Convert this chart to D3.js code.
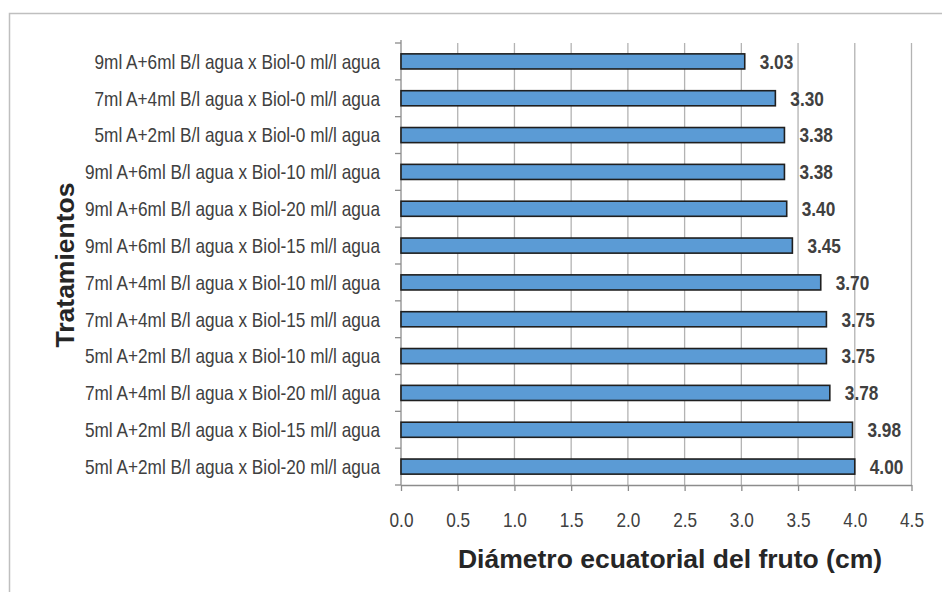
<!DOCTYPE html>
<html>
<head>
<meta charset="utf-8">
<script src="https://cdn.jsdelivr.net/npm/d3@7"></script>
<style>
  body { margin: 0; background: #fff; }
  svg { display: block; }
  .cat { font-family: "Liberation Sans", Arial, sans-serif; font-size: 21px; fill: #404040; }
  .val { font-family: "Liberation Sans", Arial, sans-serif; font-size: 21px; font-weight: bold; fill: #404040; }
  .tick text { font-family: "Liberation Sans", Arial, sans-serif; font-size: 21px; fill: #404040; }
  .title { font-family: "Liberation Sans", Arial, sans-serif; font-size: 26.5px; font-weight: bold; fill: #262626; }
</style>
</head>
<body>
<script>
"use strict";

// treatments, top to bottom as in the chart
var tratamientos = [
  "9ml A+6ml B/l agua x Biol-0 ml/l agua",
  "7ml A+4ml B/l agua x Biol-0 ml/l agua",
  "5ml A+2ml B/l agua x Biol-0 ml/l agua",
  "9ml A+6ml B/l agua x Biol-10 ml/l agua",
  "9ml A+6ml B/l agua x Biol-20 ml/l agua",
  "9ml A+6ml B/l agua x Biol-15 ml/l agua",
  "7ml A+4ml B/l agua x Biol-10 ml/l agua",
  "7ml A+4ml B/l agua x Biol-15 ml/l agua",
  "5ml A+2ml B/l agua x Biol-10 ml/l agua",
  "7ml A+4ml B/l agua x Biol-20 ml/l agua",
  "5ml A+2ml B/l agua x Biol-15 ml/l agua",
  "5ml A+2ml B/l agua x Biol-20 ml/l agua"
];
var diametro = [3.03, 3.30, 3.38, 3.38, 3.40, 3.45, 3.70, 3.75, 3.75, 3.78, 3.98, 4.00];
var x_ticks = [0, 0.5, 1, 1.5, 2, 2.5, 3, 3.5, 4, 4.5];

var width = 942, height = 592,
  plot = {left: 401, right: 911.5, top: 43, bottom: 485},
  narrow = 0.82; // horizontal squeeze to mimic Arial Narrow

var data = tratamientos.map((t, i) => ({t: t, v: diametro[i]}));

var svg = d3.select('body').append('svg')
  .attr('width', width)
  .attr('height', height);

// outer frame (top and left edges visible)
svg.append('rect')
  .attr('x', 9.5).attr('y', 13.5)
  .attr('width', 960).attr('height', 620)
  .attr('fill', 'none')
  .attr('stroke', '#bfbfbf')
  .attr('stroke-width', 1.5);

var x = d3.scaleLinear()
  .domain([0, 4.5])
  .range([plot.left, plot.right]);

var y = d3.scaleBand()
  .domain(tratamientos)
  .range([plot.top, plot.bottom])
  .paddingInner(0.59)
  .paddingOuter(0.295);

var y_outer = d3.scaleBand()
  .domain(tratamientos)
  .range([plot.top, plot.bottom]);

// gridlines
svg.append('g')
  .selectAll('line')
  .data(x_ticks.slice(1))
  .join('line')
    .attr('x1', d => x(d)).attr('x2', d => x(d))
    .attr('y1', plot.top).attr('y2', plot.bottom)
    .attr('stroke', '#b3b3b3')
    .attr('stroke-width', 1.3);

// x axis
var axis_x = svg.append('g')
  .attr('transform', `translate(0, ${plot.bottom})`)
  .call(d3.axisBottom(x)
    .tickValues(x_ticks)
    .tickFormat(d3.format('.1f'))
    .tickSize(6)
    .tickSizeOuter(0)
    .tickPadding(21));

axis_x.select('.domain').attr('stroke', '#8c8c8c').attr('stroke-width', 1.3);
axis_x.selectAll('.tick line').attr('stroke', '#8c8c8c').attr('stroke-width', 1.3);
axis_x.selectAll('.tick text').attr('transform', `scale(${narrow}, 1)`);

// y axis with ticks between categories
var y_ticks = d3.range(tratamientos.length + 1)
  .map(i => plot.top + i * y_outer.step());

var axis_y = svg.append('g');
axis_y.append('line')
  .attr('x1', plot.left).attr('x2', plot.left)
  .attr('y1', plot.top - 3).attr('y2', plot.bottom)
  .attr('stroke', '#8c8c8c')
  .attr('stroke-width', 1.3);
axis_y.selectAll('.yt')
  .data(y_ticks)
  .join('line')
    .attr('class', 'yt')
    .attr('x1', plot.left - 6).attr('x2', plot.left)
    .attr('y1', d => d).attr('y2', d => d)
    .attr('stroke', '#8c8c8c')
    .attr('stroke-width', 1.3);

// category labels
svg.append('g')
  .selectAll('text')
  .data(data)
  .join('text')
    .attr('class', 'cat')
    .attr('transform', d =>
      `translate(${plot.left - 21}, ${y_outer(d.t) + y_outer.bandwidth() / 2}) scale(${narrow}, 1)`)
    .attr('dy', '0.35em')
    .attr('text-anchor', 'end')
    .text(d => d.t);

// bars
svg.append('g')
  .selectAll('rect')
  .data(data)
  .join('rect')
    .attr('x', x(0))
    .attr('y', d => y(d.t))
    .attr('width', d => x(d.v) - x(0))
    .attr('height', y.bandwidth())
    .attr('fill', '#5b9bd5')
    .attr('stroke', '#1f1f1f')
    .attr('stroke-width', 1.6);

// value labels
svg.append('g')
  .selectAll('text')
  .data(data)
  .join('text')
    .attr('class', 'val')
    .attr('transform', d =>
      `translate(${x(d.v) + 15}, ${y_outer(d.t) + y_outer.bandwidth() / 2}) scale(${narrow}, 1)`)
    .attr('dy', '0.35em')
    .text(d => d3.format('.2f')(d.v));

// axis titles
svg.append('text')
  .attr('class', 'title')
  .attr('x', 670)
  .attr('y', 568)
  .attr('text-anchor', 'middle')
  .text('Diámetro ecuatorial del fruto (cm)');

svg.append('text')
  .attr('class', 'title')
  .attr('transform', 'translate(74, 265) rotate(-90)')
  .attr('text-anchor', 'middle')
  .text('Tratamientos');
</script>
</body>
</html>
